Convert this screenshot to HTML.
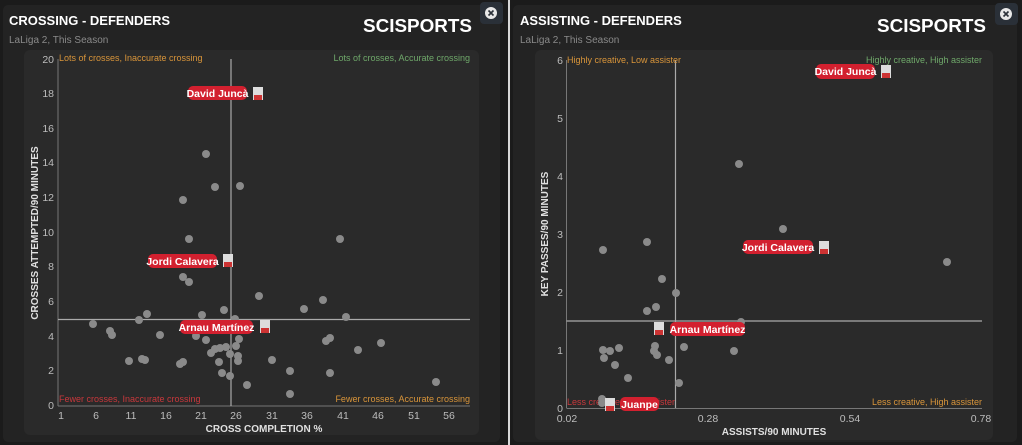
<!DOCTYPE html>
<html><head><meta charset="utf-8"><style>
html,body{margin:0;padding:0;background:#1b1b1b;}
svg{display:block;font-family:"Liberation Sans",sans-serif;}
.t{font-size:10.5px;fill:#bdbdbd}
.q{font-size:9px}
.ax{font-size:10px;font-weight:bold;fill:#e0e0e0}
.pl{font-size:10.5px;font-weight:bold;fill:#fff}
</style></head><body>
<svg width="1022" height="445" viewBox="0 0 1022 445">
<rect width="1022" height="445" fill="#1b1b1b"/>
<rect x="3" y="5" width="497" height="437" rx="5" fill="#232323"/>
<rect x="513" y="5" width="504" height="437" rx="5" fill="#232323"/>
<rect x="508" y="0" width="2" height="445" fill="#d8d8d8"/>
<rect x="480" y="2" width="23" height="22" rx="4" fill="#2a3038"/>
<circle cx="491" cy="13" r="6" fill="#e8e8e8"/><path d="M488.5 10.5l5 5M493.5 10.5l-5 5" stroke="#2a3038" stroke-width="1.6"/>
<rect x="995" y="3" width="23" height="22" rx="4" fill="#2a3038"/>
<circle cx="1006" cy="14" r="6" fill="#e8e8e8"/><path d="M1003.5 11.5l5 5M1008.5 11.5l-5 5" stroke="#2a3038" stroke-width="1.6"/>
<text x="9" y="25" font-size="13" font-weight="bold" fill="#fff">CROSSING - DEFENDERS</text>
<text x="9" y="43" font-size="10" fill="#8a8a8a">LaLiga 2, This Season</text>
<text x="363" y="32" font-size="18" font-weight="bold" fill="#fff" textLength="109" lengthAdjust="spacingAndGlyphs">SCISPORTS</text>
<text x="520" y="25" font-size="13" font-weight="bold" fill="#fff">ASSISTING - DEFENDERS</text>
<text x="520" y="43" font-size="10" fill="#8a8a8a">LaLiga 2, This Season</text>
<text x="877" y="32" font-size="18" font-weight="bold" fill="#fff" textLength="109" lengthAdjust="spacingAndGlyphs">SCISPORTS</text>
<rect x="24" y="50" width="455" height="385" rx="6" fill="#2a2a2a"/>
<rect x="535" y="50" width="458" height="390" rx="6" fill="#2a2a2a"/>

<g stroke="#777" stroke-width="1">
<line x1="58" y1="59" x2="58" y2="406"/><line x1="58" y1="406" x2="470" y2="406"/>
</g>
<g stroke="#aaa" stroke-width="1.2"><line x1="231" y1="59" x2="231" y2="406"/><line x1="58" y1="319.5" x2="470" y2="319.5"/></g>
<g class="t" text-anchor="end">
<text x="54" y="409">0</text><text x="54" y="374">2</text><text x="54" y="340">4</text><text x="54" y="305">6</text><text x="54" y="270">8</text><text x="54" y="236">10</text><text x="54" y="201">12</text><text x="54" y="166">14</text><text x="54" y="132">16</text><text x="54" y="97">18</text><text x="54" y="63">20</text>
</g>
<g class="t" text-anchor="middle">
<text x="61" y="419">1</text><text x="96" y="419">6</text><text x="131" y="419">11</text><text x="166" y="419">16</text><text x="201" y="419">21</text><text x="236" y="419">26</text><text x="272" y="419">31</text><text x="307" y="419">36</text><text x="343" y="419">41</text><text x="378" y="419">46</text><text x="414" y="419">51</text><text x="449" y="419">56</text>
</g>
<text class="ax" x="264" y="432" text-anchor="middle">CROSS COMPLETION %</text>
<text class="ax" transform="translate(38,233) rotate(-90)" text-anchor="middle">CROSSES ATTEMPTED/90 MINUTES</text>
<text class="q" x="59" y="61" fill="#d9953a">Lots of crosses, Inaccurate crossing</text>
<text class="q" x="470" y="61" fill="#6fa86a" text-anchor="end">Lots of crosses, Accurate crossing</text>
<text class="q" x="59" y="402" fill="#c8383c">Fewer crosses, Inaccurate crossing</text>
<text class="q" x="470" y="402" fill="#d9953a" text-anchor="end">Fewer crosses, Accurate crossing</text>
<g fill="#8a8a8a">
<circle cx="189" cy="239" r="4"/><circle cx="340" cy="239" r="4"/><circle cx="183" cy="277" r="4"/><circle cx="189" cy="282" r="4"/>
<circle cx="259" cy="296" r="4"/><circle cx="323" cy="300" r="4"/><circle cx="304" cy="309" r="4"/><circle cx="224" cy="310" r="4"/>
<circle cx="202" cy="315" r="4"/><circle cx="147" cy="314" r="4"/><circle cx="139" cy="320" r="4"/><circle cx="346" cy="317" r="4"/>
<circle cx="235" cy="319" r="4"/><circle cx="93" cy="324" r="4"/><circle cx="110" cy="331" r="4"/><circle cx="112" cy="335" r="4"/>
<circle cx="160" cy="335" r="4"/><circle cx="196" cy="336" r="4"/><circle cx="206" cy="340" r="4"/><circle cx="239" cy="339" r="4"/>
<circle cx="330" cy="338" r="4"/><circle cx="326" cy="341" r="4"/><circle cx="381" cy="343" r="4"/><circle cx="358" cy="350" r="4"/>
<circle cx="236" cy="346" r="4"/><circle cx="226" cy="347" r="4"/><circle cx="220" cy="348" r="4"/><circle cx="215" cy="349" r="4"/>
<circle cx="211" cy="353" r="4"/><circle cx="230" cy="354" r="4"/><circle cx="238" cy="356" r="4"/><circle cx="238" cy="361" r="4"/>
<circle cx="129" cy="361" r="4"/><circle cx="142" cy="359" r="4"/><circle cx="145" cy="360" r="4"/><circle cx="183" cy="362" r="4"/>
<circle cx="180" cy="364" r="4"/><circle cx="219" cy="362" r="4"/><circle cx="272" cy="360" r="4"/><circle cx="222" cy="373" r="4"/>
<circle cx="230" cy="376" r="4"/><circle cx="290" cy="371" r="4"/><circle cx="330" cy="373" r="4"/><circle cx="247" cy="385" r="4"/>
<circle cx="290" cy="394" r="4"/><circle cx="436" cy="382" r="4"/>
<circle cx="206" cy="154" r="4"/><circle cx="215" cy="187" r="4"/><circle cx="240" cy="186" r="4"/><circle cx="183" cy="200" r="4"/>
</g>
<g>
<rect x="188" y="86" width="59" height="14" rx="5" fill="#d2202f"/><text class="pl" x="217.5" y="97" text-anchor="middle">David Juncà</text>
<rect x="253" y="87" width="10" height="13" fill="#ddd"/><rect x="254" y="95" width="8" height="5" fill="#c33"/>
<rect x="148" y="254" width="69" height="14" rx="5" fill="#d2202f"/><text class="pl" x="182.5" y="265" text-anchor="middle">Jordi Calavera</text>
<rect x="223" y="254" width="10" height="13" fill="#ddd"/><rect x="224" y="262" width="8" height="5" fill="#c33"/>
<rect x="180" y="320" width="73" height="14" rx="5" fill="#d2202f"/><text class="pl" x="216.5" y="331" text-anchor="middle">Arnau Martínez</text>
<rect x="260" y="320" width="10" height="13" fill="#ddd"/><rect x="261" y="328" width="8" height="5" fill="#c33"/>
</g>

<g stroke="#777" stroke-width="1">
<line x1="566.5" y1="60" x2="566.5" y2="408"/><line x1="566.5" y1="408.5" x2="982" y2="408.5"/>
</g>
<g stroke="#aaa" stroke-width="1.2"><line x1="675.5" y1="60" x2="675.5" y2="408"/><line x1="566.5" y1="321" x2="982" y2="321"/></g>
<g class="t" text-anchor="end">
<text x="563" y="412">0</text><text x="563" y="354">1</text><text x="563" y="296">2</text><text x="563" y="238">3</text><text x="563" y="180">4</text><text x="563" y="122">5</text><text x="563" y="64">6</text>
</g>
<g class="t" text-anchor="middle">
<text x="567" y="422">0.02</text><text x="708" y="422">0.28</text><text x="850" y="422">0.54</text><text x="981" y="422">0.78</text>
</g>
<text class="ax" x="774" y="435" text-anchor="middle">ASSISTS/90 MINUTES</text>
<text class="ax" transform="translate(548,234) rotate(-90)" text-anchor="middle">KEY PASSES/90 MINUTES</text>
<text class="q" x="567" y="63" fill="#d9953a">Highly creative, Low assister</text>
<text class="q" x="982" y="63" fill="#6fa86a" text-anchor="end">Highly creative, High assister</text>
<text class="q" x="567" y="405" fill="#c8383c">Less creative, Low assister</text>
<text class="q" x="982" y="405" fill="#d9953a" text-anchor="end">Less creative, High assister</text>
<g fill="#8a8a8a">
<circle cx="739" cy="164" r="4"/><circle cx="783" cy="229" r="4"/><circle cx="603" cy="250" r="4"/><circle cx="647" cy="242" r="4"/>
<circle cx="947" cy="262" r="4"/><circle cx="662" cy="279" r="4"/><circle cx="676" cy="293" r="4"/><circle cx="647" cy="311" r="4"/>
<circle cx="656" cy="307" r="4"/><circle cx="741" cy="322" r="4"/><circle cx="603" cy="350" r="4"/><circle cx="619" cy="348" r="4"/>
<circle cx="610" cy="351" r="4"/><circle cx="604" cy="358" r="4"/><circle cx="615" cy="365" r="4"/><circle cx="655" cy="346" r="4"/>
<circle cx="654" cy="351" r="4"/><circle cx="657" cy="355" r="4"/><circle cx="684" cy="347" r="4"/><circle cx="669" cy="360" r="4"/>
<circle cx="734" cy="351" r="4"/><circle cx="628" cy="378" r="4"/><circle cx="679" cy="383" r="4"/><circle cx="602" cy="399" r="4"/><circle cx="602" cy="403" r="4"/>
</g>
<g>
<rect x="816" y="64" width="59" height="15" rx="5" fill="#d2202f"/><text class="pl" x="845.5" y="75" text-anchor="middle">David Juncà</text>
<rect x="881" y="65" width="10" height="13" fill="#ddd"/><rect x="882" y="73" width="8" height="5" fill="#c33"/>
<rect x="743" y="240" width="70" height="14" rx="5" fill="#d2202f"/><text class="pl" x="778" y="251" text-anchor="middle">Jordi Calavera</text>
<rect x="819" y="241" width="10" height="13" fill="#ddd"/><rect x="820" y="249" width="8" height="5" fill="#c33"/>
<rect x="670" y="322" width="75" height="14" rx="5" fill="#d2202f"/><text class="pl" x="707.5" y="333" text-anchor="middle">Arnau Martínez</text>
<rect x="654" y="322" width="10" height="13" fill="#ddd"/><rect x="655" y="330" width="8" height="5" fill="#c33"/>
<rect x="620" y="397" width="39" height="14" rx="5" fill="#d2202f"/><text class="pl" x="639.5" y="408" text-anchor="middle">Juanpe</text>
<rect x="605" y="398" width="10" height="13" fill="#ddd"/><rect x="606" y="406" width="8" height="5" fill="#c33"/>
</g>
</svg>
</body></html>
